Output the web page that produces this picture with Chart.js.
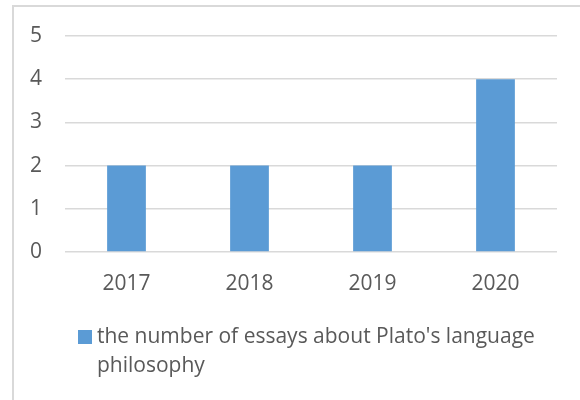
<!DOCTYPE html>
<html>
<head>
<meta charset="utf-8">
<script src="https://cdn.jsdelivr.net/npm/chart.js@4"></script>
<style>
  html, body { margin: 0; padding: 0; background: #ffffff; }
  #wrap { position: relative; width: 580px; height: 400px; overflow: hidden; background: #fff; }
  #frame { position: absolute; left: 12px; top: 5px; width: 640px; height: 460px; border: 2px solid #d9d9d9; box-sizing: border-box; }
  #c { position: absolute; left: 0; top: 0; }
  #legend { position: absolute; left: 78px; top: 321px; width: 480px; font-family: "Open Sans", sans-serif; font-size: 21px; line-height: 29px; color: #595959; }
  #legend .sw { position: absolute; left: 0; top: 9px; width: 14px; height: 14px; }
  #legend .tx { margin-left: 19px; }
</style>
</head>
<body>
<div id="wrap">
  <div id="frame"></div>
  <canvas id="c" width="580" height="400"></canvas>
  <div id="legend"></div>
</div>
<script>
const categories = ['2017', '2018', '2019', '2020'];
const essayCounts = [2, 2, 2, 4];
const yTickValues = [0, 1, 2, 3, 4, 5];
const seriesLabel = "the number of essays about Plato's language philosophy";
const barColor = '#5B9BD5';

const textColor = '#595959';
const fontFamily = '"Open Sans", sans-serif';

new Chart(document.getElementById('c'), {
  type: 'bar',
  data: {
    labels: categories,
    datasets: [{
      label: seriesLabel,
      data: essayCounts,
      backgroundColor: barColor,
      borderWidth: 0,
      barPercentage: 0.315,
      categoryPercentage: 1.0
    }]
  },
  options: {
    responsive: false,
    animation: false,
    devicePixelRatio: 1,
    layout: { padding: { top: 36, right: 23, left: 0, bottom: 0 } },
    plugins: { legend: { display: false }, tooltip: { enabled: false } },
    scales: {
      x: {
        grid: { display: false, drawTicks: false },
        border: { display: false },
        ticks: { color: textColor, font: { family: fontFamily, size: 21 }, padding: 19 },
        afterFit: (s) => { s.height = 148; }
      },
      y: {
        min: Math.min(...yTickValues),
        max: Math.max(...yTickValues),
        afterBuildTicks: (s) => { s.ticks = yTickValues.map(v => ({ value: v })); },
        grid: { color: '#d9d9d9', lineWidth: 1.5, drawTicks: false },
        border: { display: false },
        ticks: { color: textColor, font: { family: fontFamily, size: 21 }, padding: 23 },
        afterFit: (s) => { s.width = 65; }
      }
    }
  }
});

const lg = document.getElementById('legend');
const sw = document.createElement('span');
sw.className = 'sw';
sw.style.background = barColor;
const tx = document.createElement('div');
tx.className = 'tx';
tx.textContent = seriesLabel;
lg.appendChild(sw);
lg.appendChild(tx);
</script>
</body>
</html>
